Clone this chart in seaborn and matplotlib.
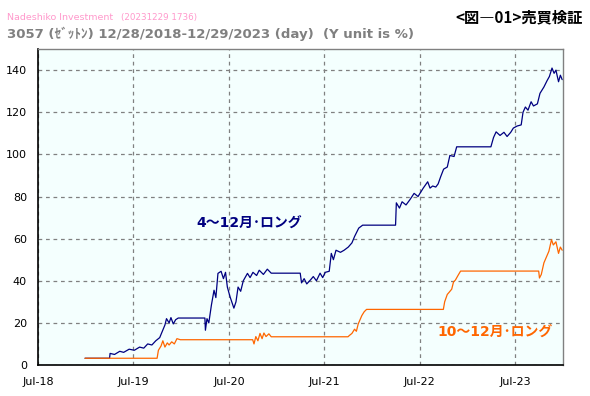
import pandas as pd
import numpy as np
import seaborn as sns
import matplotlib.pyplot as plt
import matplotlib.dates as mdates
from matplotlib.ticker import MultipleLocator

# 4~12 month long strategy (cumulative %)
long_4_12_dates = [
    "2018-12-28", "2019-04-01", "2019-04-03", "2019-04-20", "2019-05-10", "2019-05-25",
    "2019-06-15", "2019-07-05", "2019-07-25", "2019-08-10", "2019-08-25", "2019-09-10",
    "2019-09-25", "2019-10-10", "2019-10-20", "2019-10-30", "2019-11-05", "2019-11-15",
    "2019-11-22", "2019-12-01", "2019-12-10", "2019-12-20", "2020-03-31", "2020-04-02",
    "2020-04-08", "2020-04-15", "2020-04-25", "2020-05-05", "2020-05-12", "2020-05-20",
    "2020-06-01", "2020-06-10", "2020-06-18", "2020-06-25", "2020-07-05", "2020-07-20",
    "2020-07-28", "2020-08-05", "2020-08-15", "2020-08-25", "2020-09-10", "2020-09-20",
    "2020-10-01", "2020-10-15", "2020-10-25", "2020-11-10", "2020-11-25", "2020-12-10",
    "2020-12-28", "2021-03-31", "2021-04-05", "2021-04-15", "2021-04-25", "2021-05-10",
    "2021-05-20", "2021-06-01", "2021-06-15", "2021-06-25", "2021-07-05", "2021-07-20",
    "2021-07-28", "2021-08-05", "2021-08-15", "2021-09-01", "2021-09-15", "2021-10-01",
    "2021-10-15", "2021-10-25", "2021-11-10", "2021-11-25", "2021-12-28", "2022-03-31",
    "2022-04-03", "2022-04-15", "2022-04-25", "2022-05-10", "2022-05-25", "2022-06-10",
    "2022-06-25", "2022-07-05", "2022-07-15", "2022-08-01", "2022-08-10", "2022-08-20",
    "2022-09-01", "2022-09-10", "2022-09-20", "2022-10-01", "2022-10-15", "2022-10-25",
    "2022-11-10", "2022-11-20", "2022-12-28", "2023-03-31", "2023-04-10", "2023-04-20",
    "2023-05-05", "2023-05-20", "2023-06-01", "2023-06-15", "2023-06-25", "2023-07-10",
    "2023-07-25", "2023-08-01", "2023-08-10", "2023-08-20", "2023-09-01", "2023-09-10",
    "2023-09-25", "2023-10-05", "2023-10-20", "2023-11-01", "2023-11-10", "2023-11-20",
    "2023-11-28", "2023-12-05", "2023-12-15", "2023-12-22", "2023-12-29",
]
long_4_12_values = [
    3.2, 3.2, 5.5, 5.0, 6.5, 6.0,
    7.5, 7.0, 8.5, 8.0, 10.0, 9.5,
    11.5, 13.0, 16.0, 19.0, 22.0, 20.0,
    22.5, 19.5, 21.5, 22.3, 22.3, 16.5,
    22.0, 20.0, 28.5, 35.5, 32.0, 43.5,
    44.5, 41.0, 44.0, 37.0, 32.5, 27.0,
    30.0, 37.0, 35.0, 40.0, 43.5, 41.5,
    44.0, 42.5, 45.0, 43.0, 45.5, 43.6,
    43.6, 43.6, 39.0, 41.0, 38.5, 40.5,
    42.0, 40.0, 43.6, 41.5, 44.0, 44.5,
    53.0, 50.0, 54.5, 53.5, 54.5, 56.0,
    58.0, 61.0, 65.0, 66.4, 66.4, 66.4,
    77.0, 74.5, 77.5, 76.0, 78.5, 81.5,
    80.0, 82.0, 84.0, 87.0, 84.0, 85.0,
    84.5, 86.0, 89.5, 93.0, 94.0, 99.5,
    99.0, 103.6, 103.6, 103.6, 108.0, 110.7,
    109.0, 110.5, 108.5, 110.5, 112.5, 113.5,
    114.0, 120.0, 122.5, 121.0, 125.0, 123.0,
    124.0, 129.0, 132.0, 135.0, 137.0, 141.0,
    138.5, 140.0, 134.5, 137.6, 135.5,
]

# 10~12 month long strategy (cumulative %)
long_10_12_dates = [
    "2018-12-28", "2019-09-30", "2019-10-05", "2019-10-15", "2019-10-22", "2019-10-30",
    "2019-11-08", "2019-11-15", "2019-11-25", "2019-12-05", "2019-12-15", "2019-12-28",
    "2020-09-30", "2020-10-05", "2020-10-12", "2020-10-20", "2020-10-28", "2020-11-05",
    "2020-11-12", "2020-11-20", "2020-12-01", "2020-12-10", "2020-12-28", "2021-09-30",
    "2021-10-05", "2021-10-15", "2021-10-25", "2021-11-01", "2021-11-08", "2021-11-15",
    "2021-11-22", "2021-12-01", "2021-12-10", "2021-12-28", "2022-09-30", "2022-10-05",
    "2022-10-15", "2022-10-22", "2022-11-01", "2022-11-08", "2022-11-15", "2022-11-25",
    "2022-12-05", "2022-12-28", "2023-09-30", "2023-10-03", "2023-10-10", "2023-10-20",
    "2023-10-30", "2023-11-08", "2023-11-18", "2023-11-25", "2023-12-05", "2023-12-15",
    "2023-12-22", "2023-12-29",
]
long_10_12_values = [
    3.2, 3.2, 7.0, 9.0, 11.5, 8.5,
    10.5, 9.5, 11.0, 10.0, 12.5, 12.0,
    12.0, 10.0, 13.5, 11.5, 15.0, 12.5,
    15.2, 13.5, 14.8, 13.4, 13.4, 13.4,
    14.0, 15.0, 17.0, 16.0, 19.5, 21.5,
    23.5, 25.3, 26.4, 26.4, 26.4, 30.0,
    33.5, 34.5, 36.0, 39.5, 40.3, 42.5,
    44.6, 44.6, 44.6, 41.3, 43.0, 48.5,
    51.4, 54.0, 59.5, 57.0, 58.5, 53.0,
    56.0, 54.5,
]

df1 = pd.DataFrame({"date": pd.to_datetime(long_4_12_dates), "value": long_4_12_values})
df2 = pd.DataFrame({"date": pd.to_datetime(long_10_12_dates), "value": long_10_12_values})

sns.set_style("white")
plt.rcParams['font.family'] = ['DejaVu Sans', 'Noto Sans CJK JP']

fig = plt.figure(figsize=(5.9, 3.96), dpi=100)
ax = fig.add_axes([0.0644, 0.0783, 0.8898, 0.7977])
ax.set_facecolor('#F4FFFE')

sns.lineplot(data=df1, x="date", y="value", ax=ax, color='#000080', linewidth=0.9)
sns.lineplot(data=df2, x="date", y="value", ax=ax, color='#FF6600', linewidth=0.9)

ax.set_xlim(pd.Timestamp("2018-07-01"), pd.Timestamp("2024-01-01"))
ax.set_ylim(0, 150)
ax.set_xlabel("")
ax.set_ylabel("")

ax.xaxis.set_major_locator(mdates.MonthLocator(bymonth=7))
ax.xaxis.set_major_formatter(mdates.DateFormatter("%b-%y"))
ax.xaxis.set_minor_locator(mdates.MonthLocator(bymonth=1))
ax.yaxis.set_major_locator(MultipleLocator(20))
ax.yaxis.set_minor_locator(MultipleLocator(4))

ax.tick_params(axis='both', which='major', direction='out', length=5, width=1,
               labelsize=8, colors='black', pad=3)
ax.tick_params(axis='both', which='minor', direction='out', length=4, width=1, colors='black')
ax.tick_params(axis='x', which='major', pad=4)

ax.grid(True, which='major', linestyle=(0, (3, 3)), color='#808080', linewidth=0.9)

for side in ['left', 'bottom']:
    ax.spines[side].set_color('black')
    ax.spines[side].set_linewidth(1.2)
for side in ['top', 'right']:
    ax.spines[side].set_visible(True)
    ax.spines[side].set_color('#808080')
    ax.spines[side].set_linewidth(1.0)

ax.text(pd.Timestamp("2020-02-28"), 67, "4～12月･ロング", color='#000080',
        fontsize=10, fontweight='bold', va='center', ha='left')
ax.text(pd.Timestamp("2022-09-09"), 15.5, "10～12月･ロング", color='#FF6600',
        fontsize=10, fontweight='bold', va='center', ha='left')

fig.text(0.012, 0.955, "Nadeshiko Investment", color='#FF99CC', fontsize=6.8, va='center')
fig.text(0.205, 0.955, "(20231229 1736)", color='#FF99CC', fontsize=6.3, va='center')
fig.text(0.012, 0.915, "3057 (ｾﾞｯﾄﾝ) 12/28/2018-12/29/2023 (day)  (Y unit is %)",
         color='#808080', fontsize=9.5, fontweight='bold', va='center')
fig.text(0.988, 0.955, "<図―01>売買検証", color='black', fontsize=11,
         fontweight='bold', va='center', ha='right',
         family=['Noto Sans CJK JP', 'DejaVu Sans'])

fig.savefig("out.png", dpi=100, facecolor='white')
